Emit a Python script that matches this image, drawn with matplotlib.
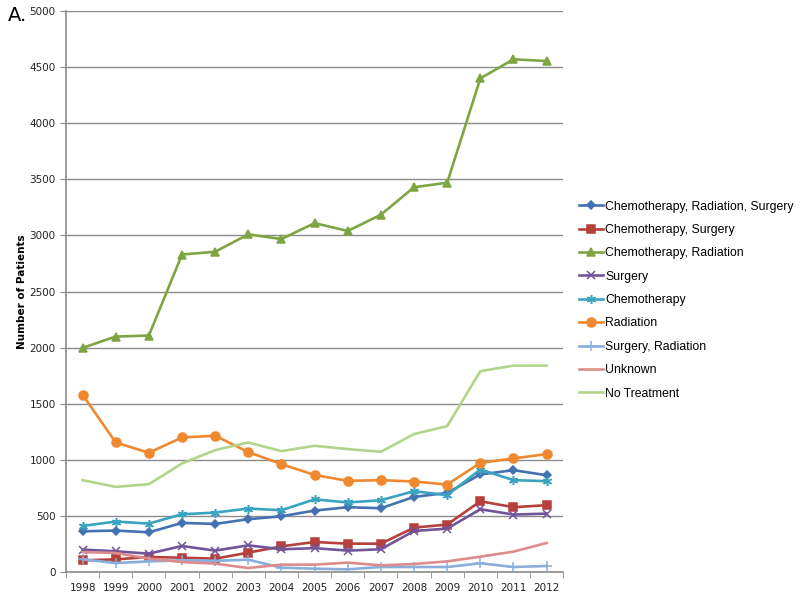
import numpy as np
import matplotlib
matplotlib.use("Agg")
import matplotlib.pyplot as plt

# --- data ---
years = ["1998", "1999", "2000", "2001", "2002", "2003", "2004", "2005",
         "2006", "2007", "2008", "2009", "2010", "2011", "2012"]

chemo_rad_surg = [363, 370, 354, 438, 429, 471, 497, 548, 578, 569, 670, 705, 870, 908, 863]
chemo_surg = [104, 113, 134, 128, 119, 173, 229, 268, 253, 253, 396, 423, 631, 578, 596]
chemo_rad = [1998, 2099, 2108, 2830, 2855, 3010, 2968, 3110, 3040, 3185, 3430, 3470, 4400, 4570, 4555]
surgery = [200, 185, 164, 232, 191, 238, 203, 213, 191, 203, 366, 387, 560, 512, 521]
chemo = [411, 450, 432, 515, 530, 566, 551, 648, 620, 640, 721, 685, 914, 819, 810]
radiation = [1580, 1155, 1063, 1200, 1215, 1069, 962, 865, 813, 819, 807, 780, 973, 1013, 1051]
surg_rad = [113, 80, 95, 105, 100, 110, 39, 30, 24, 45, 45, 45, 78, 45, 54]
unknown = [178, 170, 120, 89, 75, 36, 66, 66, 84, 60, 72, 95, 137, 182, 259]
no_treatment = [819, 759, 783, 968, 1087, 1155, 1078, 1125, 1096, 1072, 1230, 1301, 1790, 1840, 1840]

labels = ["Chemotherapy, Radiation, Surgery", "Chemotherapy, Surgery",
          "Chemotherapy, Radiation", "Surgery", "Chemotherapy", "Radiation",
          "Surgery, Radiation", "Unknown", "No Treatment"]
series = [chemo_rad_surg, chemo_surg, chemo_rad, surgery, chemo, radiation,
          surg_rad, unknown, no_treatment]

# Excel 2010 style colours and markers
colors = ["#4472B0", "#B5403C", "#7FA543", "#71559A", "#3AA3BF", "#F0882F",
          "#8AAEDC", "#DC8C8B", "#B3D48A"]
markers = ["D", "s", "^", "x", (6, 2, 0), "o", "+", None, None]
msizes = [4, 5.5, 6, 5.5, 6.5, 6.5, 6.5, 0, 0]

fig = plt.figure(figsize=(8, 5.99), dpi=100)
ax = fig.add_axes([0.0825, 0.045, 0.6215, 0.9365])

x = np.arange(len(years))
for vals, lab, c, m, ms in zip(series, labels, colors, markers, msizes):
    ax.plot(x, vals, color=c, lw=1.9, marker=m, markersize=ms,
            markeredgecolor=c, markerfacecolor=c, markeredgewidth=1.1,
            label=lab, zorder=3)

ax.set_xlim(-0.5, len(years) - 0.5)
ax.set_ylim(0, 5000)
ax.set_yticks(range(0, 5001, 500))
ax.set_xticks(x)
ax.set_xticklabels(years)
ax.set_xticks(np.arange(-0.5, len(years), 1), minor=True)
ax.tick_params(axis="x", which="major", length=0, labelsize=7.5, pad=8, colors="#222222")
ax.tick_params(axis="x", which="minor", length=4, color="#8c8c8c")
ax.tick_params(axis="y", length=4, color="#8c8c8c", labelsize=7.5, colors="#222222")
ax.yaxis.grid(True, color="#8c8c8c", lw=1)
ax.set_axisbelow(True)
for s in ["top", "right"]:
    ax.spines[s].set_visible(False)
for s in ["left", "bottom"]:
    ax.spines[s].set_color("#8c8c8c")
    ax.spines[s].set_linewidth(1.2)

ax.set_ylabel("Number of Patients", fontsize=7.5, fontweight="bold", labelpad=2)

fig.text(0.01, 0.965, "A.", fontsize=14)

fig.legend(loc="center left", bbox_to_anchor=(0.712, 0.499), frameon=False,
           prop={"family": "Liberation Sans", "size": 8.8}, handlelength=1.9,
           labelspacing=0.93, handletextpad=0.2, borderpad=0.3)

fig.savefig("out.png", dpi=100)
